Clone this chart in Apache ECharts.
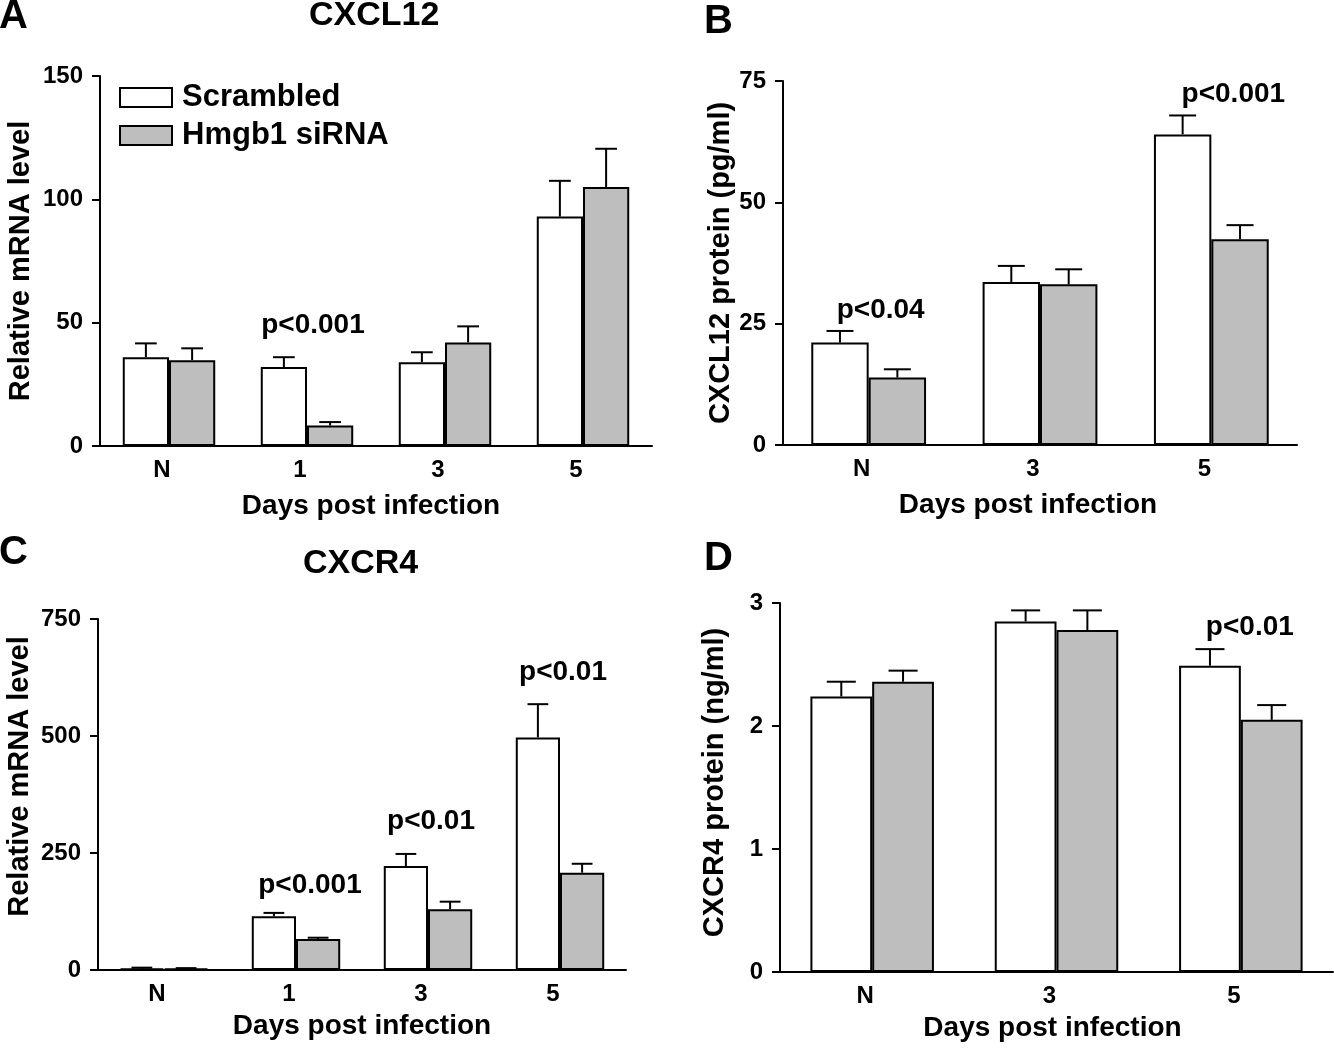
<!DOCTYPE html>
<html>
<head>
<meta charset="utf-8">
<script src="https://cdn.jsdelivr.net/npm/echarts@6/dist/echarts.min.js"></script>
<style>html,body{margin:0;padding:0;background:#fff;}#c{width:1334px;height:1050px;}</style>
</head>
<body>
<div id="c"></div>
<script>
// ---------- data ----------
const seriesNames = ['Scrambled', 'Hmgb1 siRNA'];
// Panel A: CXCL12 mRNA
const catsA = ['N', '1', '3', '5'];
const scrA = [36, 32, 34, 93];
const scrErrA = [41.6, 36, 38, 107.5];
const siA = [34.8, 8.3, 42, 105];
const siErrA = [39.6, 9.7, 48.5, 120.5];
const ticksA = [0, 50, 100, 150];
const pA = [['1', 49, 'p<0.001']];
// Panel B: CXCL12 protein
const catsB = ['N', '3', '5'];
const scrB = [21.1, 33.6, 64.0];
const scrErrB = [23.5, 36.9, 67.9];
const siB = [13.9, 33.1, 42.4];
const siErrB = [15.6, 36.2, 45.3];
const ticksB = [0, 25, 50, 75];
const pB = [['N', 27.8, 'p<0.04'], ['5', 72.3, 'p<0.001']];
// Panel C: CXCR4 mRNA
const catsC = ['N', '1', '3', '5'];
const scrC = [3, 115, 222, 497];
const scrErrC = [5, 122, 248, 568];
const siC = [3, 66, 130, 208];
const siErrC = [4, 69, 146, 227];
const ticksC = [0, 250, 500, 750];
const pC = [['1', 182, 'p<0.001'], ['3', 318, 'p<0.01'], ['5', 637, 'p<0.01']];
// Panel D: CXCR4 protein
const catsD = ['N', '3', '5'];
const scrD = [2.24, 2.85, 2.49];
const scrErrD = [2.36, 2.94, 2.625];
const siD = [2.36, 2.78, 2.05];
const siErrD = [2.45, 2.94, 2.17];
const ticksD = [0, 1, 2, 3];
const pD = [['5', 2.80, 'p<0.01']];

// ---------- layout / style ----------
const FONT = "'Liberation Sans', Arial, sans-serif";
const grids = [
  {left: 100, top: 76, width: 552, height: 370},
  {left: 783, top: 81, width: 514, height: 364},
  {left: 98, top: 619, width: 528, height: 351},
  {left: 780, top: 603, width: 553, height: 369}
];
const yNames = ['Relative mRNA level', 'CXCL12 protein (pg/ml)', 'Relative mRNA level', 'CXCR4 protein (ng/ml)'];
const yNameGaps = [65, 46, 64, 51];
const yNamePad = [[0,0,0,0],[0,0,0,0],[0,0,0,36],[0,0,0,10]];
const xNameGaps = [46, 46, 42, 42];
const xNamePad = [[0,10,0,0],[0,24,0,0],[0,0,0,0],[0,8,0,0]];
const pOffsets = [[6], [12, 22], [14, 3, 3], [9]];
const BAR_FRAC = 0.335;
const WHITE = '#ffffff', GRAY = '#bebebe';

const panels = [
  {cats: catsA, scr: scrA, scrErr: scrErrA, si: siA, siErr: siErrA, ticks: ticksA, p: pA},
  {cats: catsB, scr: scrB, scrErr: scrErrB, si: siB, siErr: siErrB, ticks: ticksB, p: pB},
  {cats: catsC, scr: scrC, scrErr: scrErrC, si: siC, siErr: siErrC, ticks: ticksC, p: pC},
  {cats: catsD, scr: scrD, scrErr: scrErrD, si: siD, siErr: siErrD, ticks: ticksD, p: pD}
];

function errRender(side) {
  return function (params, api) {
    const idx = api.value(0);
    const base = api.coord([idx, api.value(1)]);
    const top = api.coord([idx, api.value(2)]);
    const band = api.size([1, 0])[0];
    const bw = band * BAR_FRAC;
    const x = base[0] + side * bw / 2;
    const cap = bw * 0.47;
    const st = {stroke: '#000', lineWidth: 2};
    return {
      type: 'group',
      children: [
        {type: 'line', shape: {x1: x, y1: base[1], x2: x, y2: top[1]}, style: st},
        {type: 'line', shape: {x1: x - cap / 2, y1: top[1], x2: x + cap / 2, y2: top[1]}, style: st}
      ]
    };
  };
}

const xAxes = [], yAxes = [], series = [];
panels.forEach((p, i) => {
  const n = p.ticks.length - 1;
  xAxes.push({
    type: 'category', gridIndex: i, data: p.cats,
    name: 'Days post infection', nameLocation: 'middle', nameGap: xNameGaps[i],
    nameTextStyle: {fontFamily: FONT, fontWeight: 'bold', fontSize: 28, color: '#000', padding: xNamePad[i]},
    axisLine: {lineStyle: {color: '#000', width: 2}},
    axisTick: {show: false},
    axisLabel: {fontFamily: FONT, fontWeight: 'bold', fontSize: 24, color: '#000', margin: 12, padding: [0, 14, 0, 0]},
    splitLine: {show: false}
  });
  yAxes.push({
    type: 'value', gridIndex: i, min: p.ticks[0], max: p.ticks[n], interval: p.ticks[1] - p.ticks[0],
    name: yNames[i], nameLocation: 'middle', nameRotate: 90, nameGap: yNameGaps[i],
    nameTextStyle: {fontFamily: FONT, fontWeight: 'bold', fontSize: 29, color: '#000', padding: yNamePad[i]},
    axisLine: {show: true, lineStyle: {color: '#000', width: 2}},
    axisTick: {show: true, length: 8, lineStyle: {color: '#000', width: 2}},
    axisLabel: {fontFamily: FONT, fontWeight: 'bold', fontSize: 24, color: '#000', margin: 17},
    splitLine: {show: false}
  });
  series.push({
    name: seriesNames[0], type: 'bar', xAxisIndex: i, yAxisIndex: i, data: p.scr,
    barWidth: (BAR_FRAC * 100) + '%', barGap: '0%',
    itemStyle: {color: WHITE, borderColor: '#000', borderWidth: 2}, z: 2
  });
  series.push({
    name: seriesNames[1], type: 'bar', xAxisIndex: i, yAxisIndex: i, data: p.si,
    barWidth: (BAR_FRAC * 100) + '%', barGap: '0%',
    itemStyle: {color: GRAY, borderColor: '#000', borderWidth: 2}, z: 2
  });
  series.push({
    type: 'custom', xAxisIndex: i, yAxisIndex: i, renderItem: errRender(-1), z: 3,
    data: p.scr.map((v, k) => [k, v, p.scrErr[k]]), silent: true
  });
  series.push({
    type: 'custom', xAxisIndex: i, yAxisIndex: i, renderItem: errRender(1), z: 3,
    data: p.si.map((v, k) => [k, v, p.siErr[k]]), silent: true
  });
  series.push({
    type: 'scatter', xAxisIndex: i, yAxisIndex: i, symbolSize: 0, silent: true, z: 4,
    itemStyle: {opacity: 1},
    data: p.p.map((d, k) => ({
      value: [d[0], d[1]],
      label: {show: true, position: 'inside', formatter: d[2], offset: [pOffsets[i][k], 0],
        fontFamily: FONT, fontWeight: 'bold', fontSize: 28, color: '#000',
        textBorderWidth: 0, opacity: 1}
    }))
  });
});

const letterStyle = {fontFamily: FONT, fontWeight: 'bold', fontSize: 40, fill: '#000'};
const titleStyle = {fontFamily: FONT, fontWeight: 'bold', fontSize: 34, fill: '#000'};
const graphic = [
  {type: 'text', left: -1, top: -3, style: Object.assign({text: 'A'}, letterStyle)},
  {type: 'text', left: 704, top: 2, style: Object.assign({text: 'B'}, letterStyle)},
  {type: 'text', left: -1, top: 533, style: Object.assign({text: 'C'}, letterStyle)},
  {type: 'text', left: 704, top: 539, style: Object.assign({text: 'D'}, letterStyle)},
  {type: 'text', left: 309, top: -1, style: Object.assign({text: 'CXCL12'}, titleStyle)},
  {type: 'text', left: 303, top: 547, style: Object.assign({text: 'CXCR4'}, titleStyle)}
];

const chart = echarts.init(document.getElementById('c'));
chart.setOption({
  backgroundColor: '#fff',
  animation: false,
  grid: grids,
  xAxis: xAxes,
  yAxis: yAxes,
  series: series,
  graphic: graphic,
  legend: {
    data: seriesNames, orient: 'vertical', left: 114, top: 77,
    itemWidth: 52, itemHeight: 19, itemGap: 7, icon: 'rect',
    textStyle: {fontFamily: FONT, fontWeight: 'bold', fontSize: 31, color: '#000', lineHeight: 31, padding: [0, 0, 0, 5]},
    selectedMode: false
  }
});
</script>
</body>
</html>
